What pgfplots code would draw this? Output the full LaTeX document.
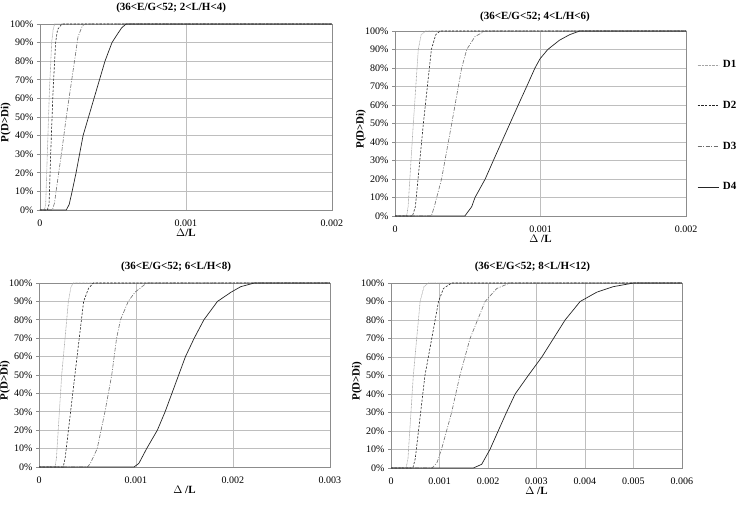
\documentclass[border=0pt]{standalone}
\usepackage{fontspec}
\setmainfont{Liberation Serif}
\usepackage{pgfplots}
\pgfplotsset{compat=1.18}

\definecolor{gridgray}{RGB}{190,190,190}
\definecolor{axisgray}{RGB}{140,140,140}
\definecolor{dOne}{RGB}{165,165,165}
\definecolor{dThree}{RGB}{110,110,110}

\pgfplotsset{
  panel/.style={
    scale only axis,
    anchor=south west,
    ymin=0, ymax=100, xmin=0,
    ytick={0,10,...,100},
    yticklabels={0\%,10\%,20\%,30\%,40\%,50\%,60\%,70\%,80\%,90\%,100\%},
    scaled x ticks=false,
    grid=major,
    major grid style={gridgray, line width=0.6pt},
    axis line style={axisgray, line width=0.6pt},
    xtick style={draw=none},
    ytick style={axisgray, line width=0.6pt},
    ytick pos=left, tick align=outside, major tick length=3pt,
    tick label style={font=\fontsize{10}{12}\selectfont},
    xticklabel style={yshift=-3pt},
    every axis title shift=0pt,
    title style={font=\bfseries\fontsize{11}{13}\selectfont, anchor=center, inner sep=0pt},
    every axis y label/.style={at={(axis description cs:-0.117,0.47)}, rotate=90, anchor=center,
      font=\bfseries\fontsize{11}{13}\selectfont},
    every axis x label/.style={at={(axis description cs:0.5,0)}, anchor=center, yshift=-23pt,
      font=\bfseries\fontsize{11}{13}\selectfont},
    ylabel={P(D>Di)},
    clip=false,
  },
  d1/.style={dOne, line width=0.6pt, dash pattern=on 0.8pt off 0.6pt},
  d2/.style={black!85, line width=0.6pt, dash pattern=on 2.2pt off 1.5pt},
  d3/.style={dThree, line width=0.6pt, dash pattern=on 4pt off 1.5pt on 1pt off 1.5pt},
  d4/.style={black!85, line width=0.7pt},
}

\begin{document}
\begin{tikzpicture}
\useasboundingbox (0,0) rectangle (737pt,505pt);

% (36<E/G<52; 2<L/H<4)
\begin{axis}[panel, at={(40pt,295pt)}, width=292pt, height=186pt,
  xmax=0.002, xtick={0,0.001,0.002}, xticklabels={0,0.001,0.002},
  title={(36<E/G<52; 2<L/H<4)}, title style={at={(axis description cs:0.449,1)}, yshift=16pt},
  xlabel={$\Delta$/L}]
\addplot[d1] coordinates {(0,0)(0.00003,0)(0.000039,3)(0.00005,30)(0.000065,65)(0.00008,90)(0.00009,97)(0.0001,100)(0.002,100)};
\addplot[d2] coordinates {(0,0)(0.00005,0)(0.000062,3)(0.000073,30)(0.00009,65)(0.000107,90)(0.00012,97)(0.00015,100)(0.002,100)};
\addplot[d3] coordinates {(0,0)(0.000085,0)(0.0001,4)(0.00011,10)(0.00015,32)(0.00018,50)(0.00021,66)(0.00024,82)(0.00026,93)(0.00029,99)(0.00031,100)(0.002,100)};
\addplot[d4] coordinates {(0,0)(0.00018,0)(0.0002,3)(0.00022,10)(0.000247,20)(0.000295,40)(0.00037,60)(0.000445,80)(0.000493,90)(0.000534,95)(0.00056,98)(0.00059,100)(0.002,100)};
\end{axis}

% (36<E/G<52; 4<L/H<6)
\begin{axis}[panel, at={(395pt,289pt)}, width=291pt, height=185pt,
  xmax=0.002, xtick={0,0.001,0.002}, xticklabels={0,0.001,0.002},
  title={(36<E/G<52; 4<L/H<6)}, title style={at={(axis description cs:0.481,1)}, yshift=14pt},
  xlabel={$\Delta$ /L},
  legend style={at={(axis description cs:1.038,0.842)}, anchor=north west, draw=none, fill=none,
    font=\bfseries\fontsize{11}{13}\selectfont, row sep=32pt, inner sep=0pt,
    nodes={inner sep=0pt}},
  legend cell align=left,
  legend image code/.code={\draw[#1] (0pt,0pt) -- (21pt,0pt); \path (25pt,0pt);},
  ]
\addplot[d1] coordinates {(0,0)(0.00008,0)(0.00009,5)(0.000126,50)(0.00016,90)(0.00018,98)(0.00021,100)(0.002,100)};
\addplot[d2] coordinates {(0,0)(0.00012,0)(0.00014,5)(0.000195,50)(0.00025,90)(0.00028,98)(0.00031,100)(0.002,100)};
\addplot[d3] coordinates {(0,0)(0.00025,0)(0.00027,5)(0.00032,20)(0.00039,50)(0.000458,80)(0.000493,90)(0.00055,97)(0.00062,100)(0.002,100)};
\addplot[d4] coordinates {(0,0)(0.00048,0)(0.000527,5)(0.00055,10)(0.00062,20)(0.000676,30)(0.000733,40)(0.00079,50)(0.000847,60)(0.000905,70)(0.000962,80)(0.000997,85)(0.00105,90)(0.00113,95)(0.0012,98)(0.00127,100)(0.002,100)};
\legend{D1,D2,D3,D4}
\end{axis}

% (36<E/G<52; 6<L/H<8)
\begin{axis}[panel, at={(39pt,38pt)}, width=291pt, height=184pt,
  xmax=0.003, xtick={0,0.001,0.002,0.003}, xticklabels={0,0.001,0.002,0.003},
  title={(36<E/G<52; 6<L/H<8)}, title style={at={(axis description cs:0.471,1)}, yshift=16pt},
  xlabel={$\Delta$ /L}]
\addplot[d1] coordinates {(0,0)(0.000166,0)(0.00018,5)(0.000234,50)(0.000303,90)(0.00033,98)(0.000355,100)(0.003,100)};
\addplot[d2] coordinates {(0,0)(0.00025,0)(0.00027,5)(0.00037,50)(0.00046,90)(0.00051,97)(0.00056,100)(0.003,100)};
\addplot[d3] coordinates {(0,0)(0.0005,0)(0.00053,2)(0.0006,10)(0.00068,30)(0.00075,50)(0.0008,70)(0.00084,80)(0.00092,90)(0.00099,95)(0.00111,100)(0.003,100)};
\addplot[d4] coordinates {(0,0)(0.00098,0)(0.00103,2)(0.00111,10)(0.00122,20)(0.0013,30)(0.00137,40)(0.00144,50)(0.00151,60)(0.0016,70)(0.0017,80)(0.00184,90)(0.00198,95)(0.00208,98)(0.00222,100)(0.003,100)};
\end{axis}

% (36<E/G<52; 8<L/H<12)
\begin{axis}[panel, at={(391pt,37pt)}, width=291pt, height=185pt,
  xmax=0.006, xtick={0,0.001,...,0.006}, xticklabels={0,0.001,0.002,0.003,0.004,0.005,0.006},
  title={(36<E/G<52; 8<L/H<12)}, title style={at={(axis description cs:0.486,1)}, yshift=16pt},
  xlabel={$\Delta$ /L}]
\addplot[d1] coordinates {(0,0)(0.00031,0)(0.00035,5)(0.00046,50)(0.0006,90)(0.00068,98)(0.00077,100)(0.006,100)};
\addplot[d2] coordinates {(0,0)(0.00045,0)(0.0005,5)(0.0007,50)(0.00098,90)(0.00108,97)(0.00125,100)(0.006,100)};
\addplot[d3] coordinates {(0,0)(0.00085,0)(0.00095,3)(0.00104,10)(0.00125,30)(0.00142,50)(0.00163,70)(0.00194,90)(0.00218,97)(0.00245,100)(0.006,100)};
\addplot[d4] coordinates {(0,0)(0.0017,0)(0.00187,2)(0.00204,10)(0.00221,20)(0.00238,30)(0.00256,40)(0.00283,50)(0.00311,60)(0.00335,70)(0.00359,80)(0.0039,90)(0.00424,95)(0.00458,98)(0.005,100)(0.006,100)};
\end{axis}
\end{tikzpicture}
\end{document}
